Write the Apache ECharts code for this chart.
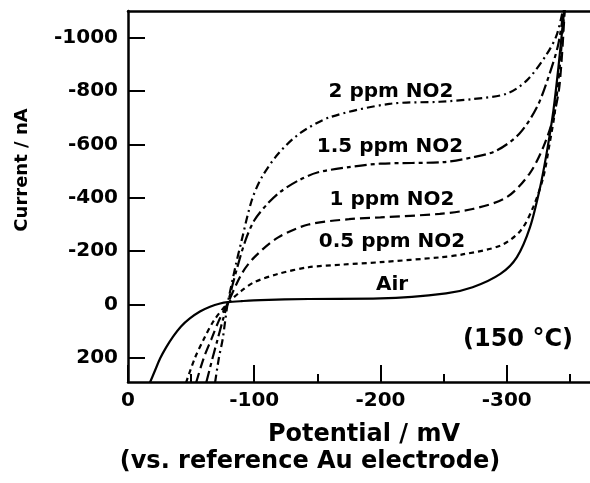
<!DOCTYPE html>
<html>
<head>
<meta charset="utf-8">
<script src="https://cdn.jsdelivr.net/npm/echarts@6.0.0/dist/echarts.min.js"></script>
<style>
  html, body { margin: 0; padding: 0; background: #fff; }
  #chart { width: 590px; height: 483px; }
</style>
</head>
<body>
<div id="chart"></div>
<script>
// potential (mV) / current (nA)
const airCurve = [
  [-17.4, 292], [-21.4, 247], [-25.4, 202], [-30.1, 161], [-35.7, 120], [-42, 82],
  [-49, 52], [-57, 26], [-65, 8], [-73, -4], [-79, -9], [-90, -13], [-105, -17],
  [-143, -21], [-200, -23], [-252, -42], [-273, -65], [-295, -115], [-308, -177],
  [-318.5, -290], [-326.5, -440], [-332, -577], [-337, -727], [-341, -890],
  [-345, -1077], [-346.5, -1150]
];
const no2Half = [
  [-46, 292], [-53, 200], [-60, 130], [-68, 60], [-79, -5], [-90, -52], [-100, -84],
  [-119, -115], [-143, -140], [-170, -150], [-200, -159], [-247, -177], [-265, -188],
  [-295, -221], [-311, -277], [-321, -365], [-329, -477], [-334, -603], [-338, -716],
  [-342, -890], [-346.5, -1150]
];
const no2One = [
  [-54, 292], [-60, 200], [-66, 130], [-72, 60], [-79, -5], [-90, -115], [-100, -177],
  [-119, -252], [-143, -300], [-175, -320], [-200, -327], [-247, -340], [-273, -358],
  [-300, -402], [-318, -490], [-329, -590], [-337, -702], [-342, -828], [-346.5, -1150]
];
const no2OneHalf = [
  [-62, 292], [-67, 200], [-71, 130], [-75, 60], [-79, -5], [-86, -130], [-93, -240],
  [-100, -315], [-110, -375], [-120, -420], [-135, -465], [-150, -495], [-175, -515],
  [-200, -528], [-250, -534], [-273, -552], [-292, -577], [-310, -640], [-324, -740],
  [-334, -865], [-341, -978], [-346.5, -1150]
];
const no2Two = [
  [-69, 292], [-72, 200], [-75, 130], [-77, 60], [-79, -5], [-85, -140], [-90, -240],
  [-98, -390], [-106, -477], [-119, -565], [-136, -641], [-160, -702], [-207, -752],
  [-247, -760], [-273, -770], [-300, -790], [-316, -840], [-332, -940], [-340, -1015],
  [-346.5, -1150]
];
const xMajorTicks = [0, -100, -200, -300];
const xMinorTicks = [-50, -150, -250, -350];
const yTicks = [-1000, -800, -600, -400, -200, 0, 200];

const font = 'DejaVu Sans';
const black = '#000';

const chart = echarts.init(document.getElementById('chart'));

function curve(name, data, dash) {
  return {
    name: name,
    type: 'line',
    data: data,
    showSymbol: false,
    smooth: 0.3,
    clip: true,
    lineStyle: { color: black, width: 2.2, type: dash }
  };
}

function label(text, x, y, size) {
  return {
    type: 'text',
    x: x,
    y: y,
    style: {
      text: text,
      fill: black,
      font: 'bold ' + size + 'px "' + font + '"',
      align: 'center',
      verticalAlign: 'middle'
    }
  };
}

chart.setOption({
  animation: false,
  backgroundColor: '#fff',
  grid: { left: 128, right: 0, top: 11, bottom: 101 },
  xAxis: [
    {
      type: 'value', min: -366, max: 0, inverse: true, position: 'bottom',
      axisLine: { onZero: false, lineStyle: { color: black, width: 2.5 } },
      axisTick: { inside: true, length: 17, customValues: xMajorTicks, lineStyle: { color: black, width: 2 } },
      axisLabel: {
        customValues: xMajorTicks, color: black, fontFamily: font, fontWeight: 'bold', fontSize: 20, margin: 9,
        formatter: (v) => String(v)
      },
      splitLine: { show: false }
    },
    {
      type: 'value', min: -366, max: 0, inverse: true, position: 'bottom',
      axisLine: { show: false, onZero: false },
      axisTick: { inside: true, length: 8, customValues: xMinorTicks, lineStyle: { color: black, width: 2 } },
      axisLabel: { show: false },
      splitLine: { show: false }
    },
    {
      type: 'value', min: -366, max: 0, inverse: true, position: 'top',
      axisLine: { onZero: false, lineStyle: { color: black, width: 2.5 } },
      axisTick: { show: false },
      axisLabel: { show: false },
      splitLine: { show: false }
    }
  ],
  yAxis: {
    type: 'value', min: -1100, max: 290, inverse: true,
    axisLine: { onZero: false, lineStyle: { color: black, width: 2.5 } },
    axisTick: { inside: true, length: 17, customValues: yTicks, lineStyle: { color: black, width: 2 } },
    axisLabel: {
      customValues: yTicks, color: black, fontFamily: font, fontWeight: 'bold', fontSize: 20, margin: 10,
      formatter: (v) => String(v)
    },
    splitLine: { show: false }
  },
  series: [
    curve('Air', airCurve, 'solid'),
    curve('0.5 ppm NO2', no2Half, [5, 4]),
    curve('1 ppm NO2', no2One, [10, 5]),
    curve('1.5 ppm NO2', no2OneHalf, [12, 4, 4, 4]),
    curve('2 ppm NO2', no2Two, [8, 4, 2, 4])
  ],
  graphic: [
    label('2 ppm NO2', 391, 92, 20),
    label('1.5 ppm NO2', 390, 147, 20),
    label('1 ppm NO2', 392, 200, 20),
    label('0.5 ppm NO2', 392, 242, 20),
    label('Air', 392, 285, 20),
    label('(150 °C)', 518, 340, 24),
    label('Potential / mV', 364, 435, 24),
    label('(vs. reference Au electrode)', 310, 462, 24),
    {
      type: 'text',
      x: 22,
      y: 170,
      rotation: Math.PI / 2,
      style: {
        text: 'Current / nA',
        fill: black,
        font: 'bold 18px "' + font + '"',
        align: 'center',
        verticalAlign: 'middle'
      }
    }
  ]
});
</script>
</body>
</html>
